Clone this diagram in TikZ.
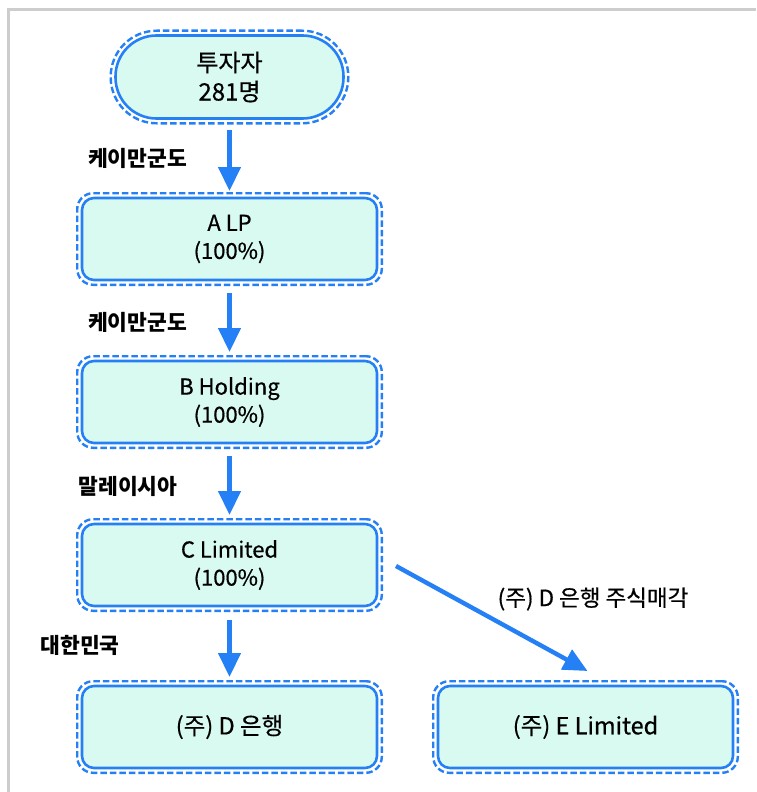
\documentclass[tikz,border=0pt]{standalone}
\usepackage{fontspec}
\setmainfont{Noto Sans CJK KR}
\newfontfamily\heavyfont[FakeBold=0.6]{Noto Sans CJK KR}
\usetikzlibrary{arrows.meta,fit,calc}
\definecolor{flowblue}{RGB}{38,128,245}
\definecolor{boxfill}{RGB}{216,250,240}
\definecolor{framegray}{RGB}{205,205,205}
\tikzset{
  entity/.style={draw=flowblue, fill=boxfill, line width=2.6pt, rounded corners=12pt,
    minimum width=295pt, minimum height=82pt, align=center,
    font=\heavyfont\fontsize{22}{28}\selectfont, inner sep=0pt},
  single/.style={font=\heavyfont\fontsize{23.5}{28}\selectfont},
  investor/.style={entity, rounded corners=41pt, minimum width=228pt, minimum height=83pt,
    font=\heavyfont\fontsize{24}{29}\selectfont},
  halo/.style={draw=flowblue, line width=2.4pt, dash pattern=on 6.5pt off 3pt,
    rounded corners=16pt, inner sep=3.5pt},
  halopill/.style={halo, rounded corners=46pt},
  flow/.style={draw=flowblue, line width=4.4pt, -{Triangle[length=24pt,width=22pt]}},
  region/.style={font=\fontsize{21.5}{24}\selectfont\bfseries},
  deal/.style={font=\heavyfont\fontsize{22.5}{24}\selectfont}
}
\begin{document}
\begin{tikzpicture}[x=1pt,y=-1pt]
  \useasboundingbox (0,0) rectangle (756,792);
  % outer frame (top and left edges)
  \draw[framegray, line width=3pt] (8.5,792) -- (8.5,9.5) -- (756,9.5);

  % entities
  \node[investor] (inv) at (229.5,77) {투자자\\281명};
  \node[entity] (alp) at (229.5,239) {A LP\\(100\%)};
  \node[entity] (bh) at (229.5,402) {B Holding\\(100\%)};
  \node[entity] (cl) at (229.5,565) {C Limited\\(100\%)};
  \node[entity, single] (dbank) at (229.5,727) {(주) D 은행};
  \node[entity, single] (el) at (585.5,727) {(주) E Limited};

  % dashed halos around every entity
  \node[halopill, fit=(inv)] (invH) {};
  \node[halo, fit=(alp)] (alpH) {};
  \node[halo, fit=(bh)] (bhH) {};
  \node[halo, fit=(cl)] (clH) {};
  \node[halo, fit=(dbank)] (dbankH) {};
  \node[halo, fit=(el)] (elH) {};

  % ownership chain
  \draw[flow, shorten <=5pt, shorten >=1pt] (invH.south) -- (alpH.north);
  \draw[flow, shorten <=7pt, shorten >=3pt] (alpH.south) -- (bhH.north);
  \draw[flow, shorten <=7pt, shorten >=3pt] (bhH.south) -- (clH.north);
  \draw[flow, shorten <=8pt, shorten >=3pt] (clH.south) -- (dbankH.north);

  % share sale
  \draw[flow] ($(clH.east)+(13,1)$) -- ($(elH.north)+(2,-9)$);

  % jurisdiction labels
  \node[region] (j1) at (137.5,158) {케이만군도};
  \node[region] (j2) at (137.5,322) {케이만군도};
  \node[region] (j3) at (128,486) {말레이시아};
  \node[region] (j4) at (80,645) {대한민국};
  \node[deal] (sale) at (593,599) {(주) D 은행 주식매각};
\end{tikzpicture}
\end{document}
